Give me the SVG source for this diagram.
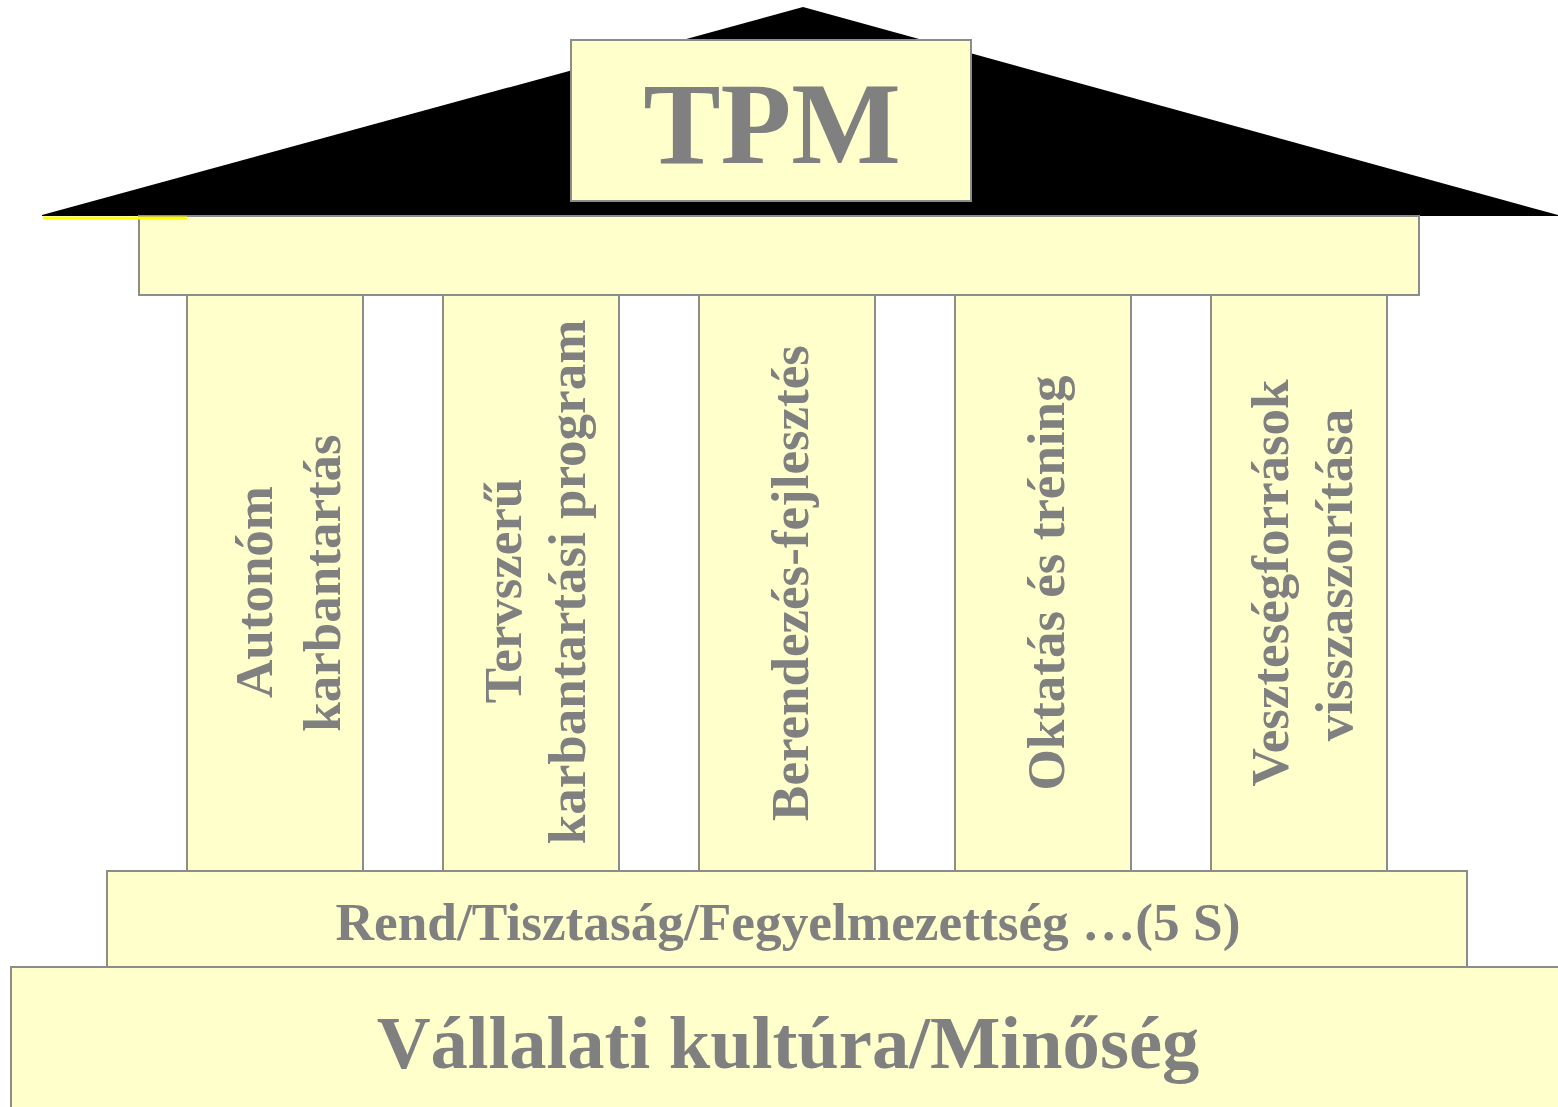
<svg xmlns="http://www.w3.org/2000/svg" width="1558" height="1107" viewBox="0 0 1558 1107">
<style>
.box{fill:#FFFFCC;stroke:#8C8C8C;stroke-width:2}
.t{font-family:"Liberation Serif","Times New Roman",serif;font-weight:bold;fill:#808080;text-anchor:middle}
.p{font-size:53px}
</style>
<rect width="1558" height="1107" fill="#ffffff"/>
<g id="roof">
<polygon points="42,215 803,7 1558,215 1558,216 42,216" fill="#000000"/>
</g>
<g id="tpm">
<rect class="box" x="571" y="40" width="400" height="161"/>
<text class="t" x="772" y="163" font-size="116">TPM</text>
</g>
<g id="beam">
<rect class="box" x="139" y="216" width="1280" height="79"/>
<line x1="43" y1="218" x2="187" y2="218" stroke="#FFFF00" stroke-width="3"/>
</g>
<g id="pillar1">
<rect class="box" x="187" y="295" width="176" height="576"/>
<text class="t p" transform="translate(272,592) rotate(-90)">Autonóm</text>
<text class="t p" transform="translate(340,583) rotate(-90)">karbantartás</text>
</g>
<g id="pillar2">
<rect class="box" x="443" y="295" width="176" height="576"/>
<text class="t p" transform="translate(521,591) rotate(-90)">Tervszerű</text>
<text class="t p" transform="translate(585,582) rotate(-90)">karbantartási program</text>
</g>
<g id="pillar3">
<rect class="box" x="699" y="295" width="176" height="576"/>
<text class="t p" transform="translate(808,583) rotate(-90)">Berendezés-fejlesztés</text>
</g>
<g id="pillar4">
<rect class="box" x="955" y="295" width="176" height="576"/>
<text class="t p" transform="translate(1064,583) rotate(-90)">Oktatás és tréning</text>
</g>
<g id="pillar5">
<rect class="box" x="1211" y="295" width="176" height="576"/>
<text class="t p" transform="translate(1288,583) rotate(-90)">Veszteségforrások</text>
<text class="t p" transform="translate(1352,575) rotate(-90)">visszaszorítása</text>
</g>
<g id="step">
<rect class="box" x="107" y="871" width="1360" height="96"/>
<text class="t" x="788" y="940" font-size="53.3">Rend/Tisztaság/Fegyelmezettség …(5 S)</text>
</g>
<g id="base">
<rect class="box" x="11" y="967" width="1560" height="150"/>
<text class="t" x="788" y="1068" font-size="74.6">Vállalati kultúra/Minőség</text>
</g>
<g id="connectors"></g>
</svg>
